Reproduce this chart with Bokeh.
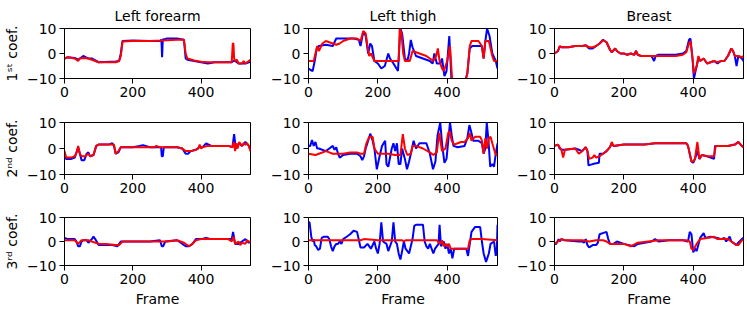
from bokeh.plotting import figure
from bokeh.layouts import gridplot
from bokeh.models import FixedTicker, Range1d
from bokeh.embed import file_html
from bokeh.resources import INLINE

# ---------------- data ----------------
titles = ["Left forearm", "Left thigh", "Breast"]
ylabels = ["1\u02e2\u1d57 coef.", "2\u207f\u1d48 coef.", "3\u02b3\u1d48 coef."]
x_ticks = [0, 200, 400]
y_ticks = [-10, 0, 10]

# Left forearm, 1st coef.
fa1_blue_x = [0, 10, 30, 40, 50, 55, 62, 70, 80, 100, 150, 160, 165, 170, 200, 250, 280, 284, 286, 288, 290, 300, 330, 350, 355, 360, 380, 400, 420, 440, 490, 495, 500, 510, 530, 540, 545]
fa1_blue_y = [-2, -1.5, -1.8, -2.5, -1.5, -1, -1.5, -2, -2, -3.5, -3.2, -3, 0, 5, 5.2, 5, 5, 5.5, -1.5, 5.8, 5.5, 6, 6, 5.5, -2, -2.5, -3, -3.5, -4, -3.5, -3.5, -3, -3, -4, -4, -3.5, -3.5]
fa1_red_x = [0, 10, 30, 40, 45, 55, 70, 80, 100, 150, 160, 165, 170, 200, 250, 285, 300, 330, 350, 355, 360, 380, 400, 420, 490, 493, 495, 497, 500, 505, 510, 520, 525, 530, 540, 545]
fa1_red_y = [-2, -1.5, -2, -3, -2, -1.8, -2, -2.5, -3.5, -3.5, -3, -1, 4.8, 5, 5, 5.2, 5.3, 5.5, 5.5, 0, -2, -2.8, -3.3, -3.5, -3.5, 4, 4, -2, -3, -2.5, -4, -4, -3, -4, -3, -2.5]

# Left thigh, 1st coef.
th1_blue_x = [0, 5, 12, 18, 24, 30, 50, 70, 80, 100, 130, 145, 150, 158, 165, 172, 178, 183, 190, 200, 210, 220, 230, 235, 245, 258, 265, 270, 278, 285, 290, 295, 300, 310, 330, 350, 358, 363, 370, 380, 385, 392, 398, 406, 412, 420, 450, 458, 465, 472, 480, 500, 505, 510, 515, 522, 530, 540, 545]
th1_blue_y = [-6, -6.5, -7, -3, 2, 3, 3.5, 3, 6, 6, 6, 5.5, 3, 8.8, 7, 0, 4, 3, -3, -4, -6, -5, 0, -2, -4, -7, 10, 8, -2, -3, 0, 5.4, 2.5, -1, -2, -3, -4, 0, -4, -4, -2, -9, -7, 7, -10, -12, -12, -8, 2, 3, 3, 3, -2, 5, 10, 7, 0, -3, -6]
th1_red_x = [0, 15, 20, 25, 30, 40, 50, 60, 70, 80, 90, 100, 120, 140, 150, 158, 165, 170, 175, 180, 190, 200, 260, 263, 268, 273, 278, 285, 292, 300, 320, 340, 350, 360, 368, 373, 378, 385, 390, 395, 400, 408, 414, 420, 450, 458, 465, 470, 490, 500, 505, 510, 520, 530, 535, 545]
th1_red_y = [-3, -3, 0, 3, 1, 4, 5, 4.5, 4, 3.5, 4, 5, 6, 6, 5, 9, 8, 3, -1, 0, -3, -3, -3, 10, 8, 0, -3, -3, -3, 1, 0, -1, -2, -3, -1, 2, -3, -6, -7, -5, -3, 3, -10, -12, -12, -8, 3, 5, 5, 3, -2, 5, 5, -1, -3, -3]

# Breast, 1st coef.
br1_blue_x = [0, 10, 15, 20, 40, 60, 80, 90, 100, 110, 120, 130, 140, 150, 160, 165, 175, 180, 190, 200, 210, 220, 230, 235, 240, 250, 280, 287, 292, 300, 350, 370, 380, 388, 392, 398, 402, 410, 415, 420, 430, 440, 460, 470, 480, 490, 500, 510, 515, 520, 525, 530, 540, 545]
br1_blue_y = [0, 1, 2.8, 2.5, 2.5, 3, 3, 3.3, 2, 2, 3, 4, 5.5, 4.5, 1.5, 0.5, 2, 1, 0, 0, -0.5, 0, -0.5, 1, -0.5, -1, -1, -3, -1, -0.5, -0.5, 0, 1, 5.5, 6, -2, -10, -5, -2, -3, -2, -4, -3, -4, -3, -3, -1, 2, 1, -1, -5, -1, -2, -3]
br1_red_x = [0, 10, 15, 20, 40, 60, 80, 90, 100, 110, 120, 130, 140, 150, 160, 165, 175, 180, 190, 200, 210, 220, 230, 235, 240, 250, 300, 350, 370, 380, 388, 392, 398, 402, 410, 415, 420, 430, 440, 460, 470, 480, 490, 500, 510, 515, 520, 530, 540, 545]
br1_red_y = [0, 1, 3, 2.5, 2.5, 3, 3, 3.2, 2.5, 2.5, 3, 4, 5.3, 4.5, 1.5, 0.5, 2, 1, 0, 0, -0.5, 0, -0.5, 1, -0.5, -1, -1, -1, -0.5, 0.5, 4, 5, -2, -8, -5, -1, -3, -2, -4, -3, -3.5, -3, -3, -1, 2, 1, -1, -1, -1.5, -1]

# Left forearm, 2nd coef.
fa2_blue_x = [0, 5, 20, 30, 40, 45, 50, 58, 65, 70, 75, 85, 93, 100, 130, 140, 145, 150, 158, 165, 200, 220, 230, 250, 283, 285, 288, 291, 330, 345, 355, 362, 370, 385, 395, 405, 415, 430, 480, 492, 497, 501, 505, 510, 520, 530, 540, 545]
fa2_blue_y = [-3, -4, -4, -3.5, 0.5, -2, -4.5, -4.5, -2, -1.5, -3, -2.5, 1, 1.5, 1.5, 2, 1, -2, -1.5, 0.5, 0.5, 1, 1.3, 0.5, 0.5, -3, -3, 0.5, 0.5, 0, -2, -2, -1, -0.5, 0.5, 0.5, 2, 1, 1, 0.5, 5.5, 1, 0, 2, 1, 2.5, 1, -0.5]
fa2_red_x = [0, 5, 20, 30, 37, 40, 45, 50, 60, 70, 75, 85, 93, 100, 130, 145, 150, 158, 165, 200, 250, 265, 268, 280, 330, 345, 355, 370, 385, 392, 396, 400, 405, 420, 480, 492, 496, 500, 503, 507, 512, 520, 525, 530, 535, 540, 545]
fa2_red_y = [-1, -3.5, -3.5, -3, -1, 1, -2, -3, -3, -2, -3, -2.5, 1, 1.5, 1.5, 1.5, -2, -1, 0.5, 0.5, 0.5, 0.5, 1, 0.5, 0.5, 0, -1, -1, -0.5, 0, 1.5, 0, 0.5, 1, 1, 0.5, 2.5, -1, 2, 0, 2.5, 1, 2, 1.5, 2, 1, -1]

# Left thigh, 2nd coef.
th2_blue_x = [0, 5, 10, 15, 20, 25, 30, 50, 60, 70, 75, 80, 85, 90, 100, 120, 140, 150, 155, 160, 165, 172, 178, 185, 190, 197, 205, 212, 221, 225, 230, 240, 245, 250, 255, 260, 265, 270, 278, 284, 290, 297, 303, 310, 320, 340, 350, 359, 366, 372, 380, 385, 392, 398, 403, 408, 413, 418, 430, 450, 458, 464, 470, 475, 490, 500, 505, 510, 514, 519, 524, 530, 535, 540, 545]
th2_blue_y = [1, 1, 3.3, 1, 2.5, 0, 0, -1, 0, 1, -0.5, 0.5, -2, -3.5, -2.5, -2, -2, -3, -4.5, -3, 0, 3, 5.7, 3, 0, -8, -3, 1, 3, -6, -7, 0, 2, -1, 2, -6, -6, 0, -4, -8, -5, -1, 3, 0, 2, 2, -2, -8, -5, 5, 10, 2, -5.5, -4, 3, 10, 5, 1, 0.5, 1, 4, 9, 6, 3, 3, 2, -2, 0, 10, 3, -7, -6, -7, -2, 2]
th2_red_x = [0, 20, 30, 50, 60, 70, 100, 120, 140, 150, 160, 167, 175, 185, 190, 200, 230, 250, 265, 272, 278, 285, 295, 300, 310, 330, 350, 360, 370, 377, 385, 395, 403, 407, 413, 420, 430, 440, 450, 460, 465, 470, 480, 495, 500, 505, 510, 515, 520, 525, 530, 540, 545]
th2_red_y = [-2, -2.5, -2, -1, -1.5, -2, -2, -1.5, -1.5, -2, -2, 2, 4.5, 4.5, 0, -2, -2, -2.5, -2.5, 5.5, 0, -2.5, -2, 1, 1, 0, -1.5, -2.5, -1.5, 6, -1, 0, 6, 6.7, 3, 1.5, 2, 2.5, 2.5, 4, 6, 3, 4.5, 4.5, 3, -2, 4, 0, 4, 4.5, 2, -2.5, -2.5]

# Breast, 2nd coef.
br2_blue_x = [0, 10, 15, 20, 30, 60, 70, 80, 90, 95, 98, 110, 128, 130, 140, 150, 160, 165, 170, 200, 230, 260, 290, 350, 380, 385, 390, 395, 400, 405, 412, 418, 425, 440, 460, 463, 480, 500, 520, 530, 540, 545]
br2_blue_y = [1, 1.5, 0, -0.5, -0.5, 0, -0.5, -1, 0.5, -1, -6.5, -6, -5.5, -2, -2, -1, 0.5, 2, 1, 1.5, 1.5, 1.5, 2, 2, 2, 1, -2, -5, -5.5, -4, -1, -4, -2.5, -3, -4, 1, 1, 1, 1.5, 2.5, 1, 0.5]
br2_red_x = [0, 10, 15, 20, 25, 30, 60, 70, 80, 90, 95, 100, 110, 115, 120, 130, 140, 150, 160, 165, 170, 200, 230, 260, 290, 350, 380, 385, 390, 395, 400, 405, 412, 418, 425, 440, 460, 465, 480, 500, 520, 530, 540, 545]
br2_red_y = [1, 1.5, 0.5, -0.5, -3.5, -0.5, 0, -2, -1, 0.5, -1, -4, -3.5, -2.5, -3.5, -3, -2, -1, 0.5, 2.5, 1, 1.5, 1.5, 1.5, 2, 2, 2, 1, -2, -5, -5, -4, 2.5, -4, -2.5, -3, -3, 1, 1, 1, 1.5, 2.5, 1, 0.5]

# Left forearm, 3rd coef.
fa3_blue_x = [0, 10, 30, 35, 40, 45, 50, 55, 65, 70, 80, 85, 90, 100, 120, 140, 155, 165, 200, 250, 280, 285, 289, 295, 330, 355, 365, 375, 385, 400, 415, 430, 490, 494, 500, 510, 520, 530, 540, 545]
fa3_blue_y = [1.5, 1, 1, 0, -2, -2, 0, 0.5, 0.5, -0.5, 1, 2, 1, -1.5, -1.5, -1.5, -2, 0, 0, 0, 0.5, -2, -2, 0, 0.5, -2, -2, -1, 1, 1, 1.5, 1, 1, 4, -1, -1, 0, 1, -0.5, 0]
fa3_red_x = [0, 30, 40, 50, 70, 80, 100, 120, 150, 160, 170, 200, 250, 300, 330, 350, 365, 375, 385, 400, 480, 490, 495, 500, 510, 515, 520, 530, 535, 545]
fa3_red_y = [0.5, 0.5, -1, 0.5, 0.5, 0, -1, -1, -1.5, -1.5, 0, 0, 0, 0, 0.5, -0.5, -2, -1, 0.5, 1, 1, 0, 2, -1, 0, -1.5, -0.5, -1, 0.5, -0.5]

# Left thigh, 3rd coef.
th3_blue_x = [0, 3, 8, 12, 15, 18, 22, 28, 33, 38, 45, 55, 60, 65, 70, 75, 80, 85, 90, 95, 100, 110, 120, 130, 140, 150, 160, 170, 180, 190, 195, 200, 205, 210, 215, 225, 230, 240, 245, 250, 255, 260, 265, 270, 275, 280, 290, 300, 305, 310, 330, 335, 340, 345, 350, 360, 365, 375, 378, 382, 390, 395, 400, 405, 410, 415, 420, 440, 455, 460, 465, 470, 480, 495, 500, 505, 512, 520, 525, 535, 540, 543, 545]
th3_blue_y = [8, 8, 2, 0, 1, -1.5, -2, -3.5, -3, 1.5, 2, 2, 1, -2, -4, -2, -1, -1, 0, -1, 1, 2, 3, 4.5, 4, -2.5, -2.5, -1, -3, 0, -3, -5, -1, 8, 0, -1, -4, 0, 8, 0, -1, -5, -7.5, -4, 0, -3, -5, 1, 6.5, 7, 7, 0, -2, -3, -1, -5, -3, -1, 7, -2, 0, -3, -1, -5, -3, -7, -3, -3, -3, -6, -1, 4, 6, 6, 0, -5, -8.5, -5, -1, 0, -6, -4, 7]
th3_red_x = [0, 150, 160, 200, 270, 275, 280, 370, 380, 385, 390, 395, 400, 405, 410, 420, 460, 465, 470, 500, 545]
th3_red_y = [0.5, 0.5, 1, 0.5, 0.5, 0, 0.5, 0.5, -1, 0.5, -2, -1, -2, -1, -3, -3, -3, 0.5, 1, 1, 0.5]

# Breast, 3rd coef.
br3_blue_x = [0, 5, 12, 15, 20, 30, 70, 80, 85, 90, 95, 100, 110, 120, 125, 130, 150, 155, 160, 170, 180, 200, 215, 230, 240, 280, 290, 300, 330, 370, 385, 390, 395, 400, 405, 410, 420, 430, 435, 450, 470, 480, 490, 495, 500, 505, 510, 525, 530, 540, 545]
br3_blue_y = [-1, -1, 1, 0, 1, 0.5, 0, 0, -0.5, 1, -1.5, -2.5, -1.5, -1.5, -0.5, 3, 4, 1, -1, -1, 0, -1, -1.5, -2, -1, 0, 1, 0, 0.5, 0.5, 0, 4, 3, -4.5, -3, -4, 1.5, 3.5, 1.5, 2, 1.5, 1, 1.5, 0, 1, 2, 0, -1.5, -0.5, 1, 1.5]
br3_red_x = [0, 10, 20, 30, 80, 100, 120, 140, 150, 160, 200, 220, 240, 300, 380, 390, 395, 400, 410, 420, 440, 460, 470, 490, 500, 510, 525, 530, 540, 545]
br3_red_y = [-1, 0, 1, 0.5, 0.5, 0, 0.5, 0.5, 0, -1, -1, -2, -0.5, 0.5, 0.5, 0, -3, -3.5, -1, 1, 1.5, 2, 1, 1, 1, 0, -1.5, -1.5, 0.5, 0.5]

blue_series = [
    [(fa1_blue_x, fa1_blue_y), (th1_blue_x, th1_blue_y), (br1_blue_x, br1_blue_y)],
    [(fa2_blue_x, fa2_blue_y), (th2_blue_x, th2_blue_y), (br2_blue_x, br2_blue_y)],
    [(fa3_blue_x, fa3_blue_y), (th3_blue_x, th3_blue_y), (br3_blue_x, br3_blue_y)],
]
red_series = [
    [(fa1_red_x, fa1_red_y), (th1_red_x, th1_red_y), (br1_red_x, br1_red_y)],
    [(fa2_red_x, fa2_red_y), (th2_red_x, th2_red_y), (br2_red_x, br2_red_y)],
    [(fa3_red_x, fa3_red_y), (th3_red_x, th3_red_y), (br3_red_x, br3_red_y)],
]

# ---------------- layout ----------------
FONT = "DejaVu Sans"
FW, FH = 189, 52
col_borders = [(61, 14), (44, 13), (44, 2)]   # (left, right)
row_borders = [(26, 30), (14, 30), (13, 40)]  # (top, bottom)

rows = []
for r in range(3):
    row_figs = []
    for c in range(3):
        l, rr = col_borders[c]
        t, b = row_borders[r]
        p = figure(width=l + FW + rr, height=t + FH + b,
                   x_range=Range1d(0, 545), y_range=Range1d(-10, 10),
                   output_backend="svg", toolbar_location=None,
                   min_border_left=l, min_border_right=rr,
                   min_border_top=t, min_border_bottom=b)
        p.xgrid.visible = False
        p.ygrid.visible = False
        p.outline_line_color = "black"
        p.outline_line_alpha = 1.0
        p.outline_line_width = 1
        for ax in (p.xaxis[0], p.yaxis[0]):
            ax.major_label_text_font = FONT
            ax.major_label_text_font_size = "14px"
            ax.major_label_text_color = "black"
            ax.major_label_standoff = 3
            ax.axis_line_color = "black"
            ax.major_tick_line_color = "black"
            ax.major_tick_out = 5
            ax.major_tick_in = 0
            ax.minor_tick_line_color = None
            ax.axis_label_text_font = FONT
            ax.axis_label_text_font_size = "14px"
            ax.axis_label_text_font_style = "normal"
            ax.axis_label_text_color = "black"
            ax.axis_label_standoff = 4
        p.xaxis.ticker = FixedTicker(ticks=x_ticks)
        p.yaxis.ticker = FixedTicker(ticks=y_ticks)
        p.yaxis.major_label_overrides = {-10: "\u221210"}
        if c == 0:
            p.yaxis.axis_label = ylabels[r]
        if r == 2:
            p.xaxis.axis_label = "Frame"
        if r == 0:
            p.title.text = titles[c]
            p.title.text_font = FONT
            p.title.text_font_size = "14px"
            p.title.text_font_style = "normal"
            p.title.text_color = "black"
            p.title.align = "center"
            p.title.standoff = 10
        bx, by = blue_series[r][c]
        rx, ry = red_series[r][c]
        p.line(bx, by, line_color="#0000ff", line_width=2)
        p.line(rx, ry, line_color="#ff0000", line_width=2)
        row_figs.append(p)
    rows.append(row_figs)

grid = gridplot(rows, toolbar_location=None)
open("out.html", "w").write(file_html(grid, INLINE))
